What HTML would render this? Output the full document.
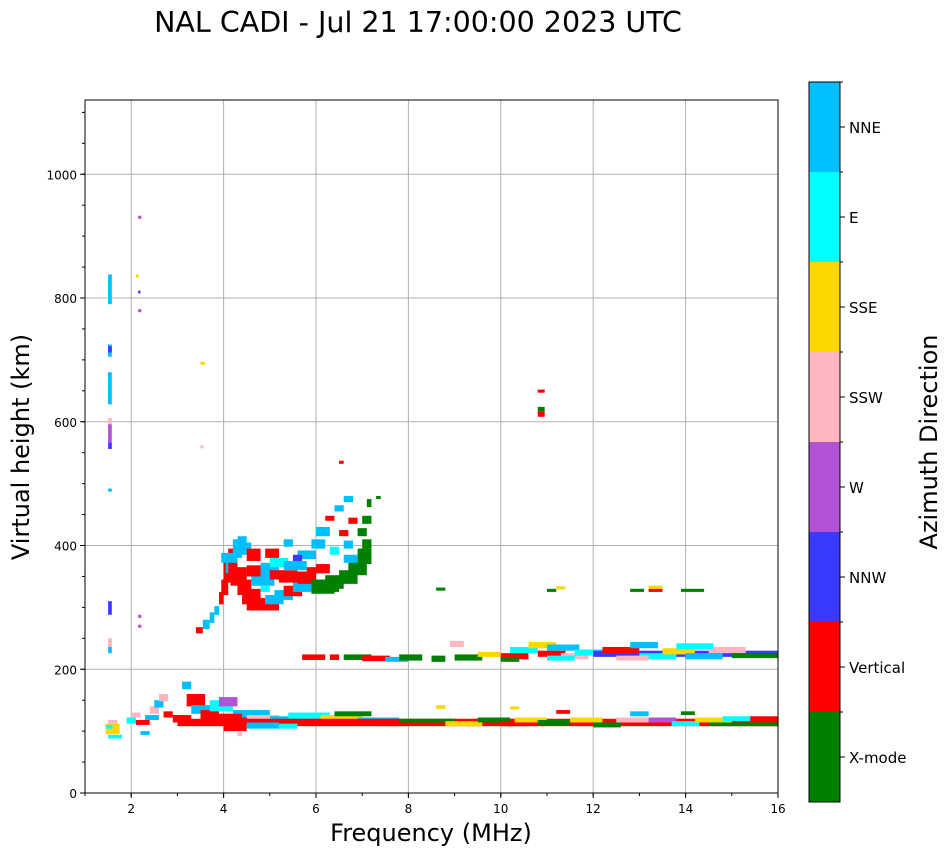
<!DOCTYPE html>
<html><head><meta charset="utf-8"><style>
body{margin:0;background:#fff;font-family:"DejaVu Sans","Liberation Sans",sans-serif}
svg text{font-family:"DejaVu Sans","Liberation Sans",sans-serif}
</style></head><body>
<svg id="chart" width="951" height="856" xmlns="http://www.w3.org/2000/svg">
<text x="418" y="32" font-size="28.5" text-anchor="middle">NAL CADI - Jul 21 17:00:00 2023 UTC</text>
<g id="grid"></g>
<g id="marks"></g>
<rect x="85" y="100" width="693" height="693" fill="none" stroke="#000" stroke-width="1"/>
<g id="axes"></g>
<text x="431" y="841" font-size="24" text-anchor="middle">Frequency (MHz)</text>
<text transform="translate(29,447) rotate(-90)" font-size="24" text-anchor="middle">Virtual height (km)</text>
<g id="colorbar"></g>
<text transform="translate(937,442) rotate(-90)" font-size="24" text-anchor="middle">Azimuth Direction</text>
</svg>
<script>
const categories=["X-mode","Vertical","NNW","W","SSW","SSE","E","NNE"];
const catColors=["#008000","#ff0000","#3a3aff","#b452d6","#ffb6c1","#ffd700","#00ffff","#00bfff"];
const xTicks=[2,4,6,8,10,12,14,16];
const yTicks=[0,200,400,600,800,1000];
// echoes: [freqStart MHz, freqEnd MHz, heightLow km, heightHigh km, category index]
const echoes=[
[1.5,1.58,790,838,7],[1.5,1.58,705,725,7],[1.5,1.58,712,722,2],[1.5,1.58,628,680,7],[1.5,1.58,596,606,4],
[1.5,1.58,565,596,3],[1.5,1.58,556,566,2],[1.5,1.58,487,492,7],[1.5,1.58,288,310,2],[1.5,1.58,236,250,4],[1.5,1.58,226,236,7],
[2.15,2.22,928,933,3],[2.1,2.16,833,838,5],[2.15,2.2,808,812,2],[2.15,2.22,777,782,3],[3.5,3.6,692,697,5],[3.5,3.56,557,562,4],
[2.15,2.22,283,288,3],[2.15,2.22,267,272,3],
[1.45,1.75,95,112,5],[1.45,1.6,104,110,6],[1.5,1.8,88,94,6],[1.5,1.7,112,118,4],[1.9,2.1,112,122,6],[2.0,2.2,122,130,4],
[2.1,2.4,110,118,1],[2.2,2.4,94,100,7],[2.3,2.6,118,126,7],[2.4,2.6,128,140,4],[2.5,2.7,138,150,7],[2.6,2.8,148,160,4],[2.7,2.9,122,132,1],
[2.9,3.3,114,126,1],[3.1,3.3,168,180,7],[3.2,3.6,140,160,1],[3.3,3.8,128,142,7],[3.5,3.9,118,134,1],[3.7,4.2,132,150,6],
[3.9,4.3,140,155,3],[3.8,4.6,110,128,1],[4.0,4.8,112,122,1],[4.2,5.0,122,134,7],[4.5,5.2,116,126,4],[5.0,5.8,112,124,7],
[5.4,6.3,120,130,6],[5.8,6.6,110,120,1],[6.1,7.0,116,126,5],[6.4,7.2,124,132,0],[6.9,7.8,112,122,7],[7.3,8.0,108,116,3],
[3.0,16,108,120,1],[7.8,9.0,114,120,0],[8.8,9.6,108,116,5],[8.6,8.8,136,142,5],[9.5,10.2,114,122,0],[10.0,10.6,108,116,1],
[10.3,11.0,114,122,5],[10.2,10.4,135,140,5],[10.8,11.5,110,118,0],[11.2,11.5,128,134,1],[11.5,12.2,114,122,5],
[12.0,12.6,106,114,0],[12.5,13.2,114,122,4],[12.8,13.2,124,132,7],[13.2,13.8,114,122,3],[13.7,14.3,108,116,6],
[13.9,14.2,126,132,0],[14.2,15.0,114,122,5],[14.8,15.5,116,124,6],[15.4,16.0,114,124,1],[14.5,16,108,114,0],
[4.0,4.5,100,112,1],[4.5,5.2,104,114,7],[5.2,5.6,104,112,6],[4.3,4.4,92,98,4],[3.9,4.4,118,128,1],
[3.4,3.55,258,268,1],[3.55,3.7,265,280,7],[3.7,3.8,275,292,7],[3.8,3.9,288,302,7],[3.9,4.0,305,325,1],[3.95,4.1,320,345,1],
[4.0,4.15,340,375,1],[4.05,4.25,355,380,7],[4.1,4.3,345,395,1],[4.2,4.4,380,410,7],[4.3,4.6,385,405,7],[4.5,4.8,375,395,1],
[4.15,4.5,335,365,1],[4.3,4.6,320,345,1],[4.4,4.8,305,330,1],[4.5,4.9,295,315,1],[4.7,5.2,295,310,1],[4.9,5.3,305,320,7],
[5.1,5.5,312,328,7],[5.3,5.7,318,335,1],[5.5,5.9,325,345,7],[4.6,5.1,335,360,7],[4.8,5.2,355,372,7],[5.0,5.4,365,380,6],
[5.2,5.6,340,360,1],[5.3,5.8,360,375,7],[5.6,6.0,338,358,1],[5.6,6.0,378,392,7],[5.9,6.2,395,410,7],[6.0,6.3,415,430,7],
[6.0,6.3,355,370,1],[5.9,6.4,322,345,0],[6.2,6.6,330,352,0],[6.5,6.9,338,360,0],[6.7,7.1,352,375,0],[6.9,7.2,370,395,0],
[7.0,7.2,395,410,0],[6.9,7.1,415,428,0],[7.0,7.2,435,448,0],[7.1,7.2,462,475,0],[6.5,6.7,415,425,1],[6.4,6.6,455,465,7],
[6.6,6.8,395,408,7],[6.7,6.9,435,445,1],[6.2,6.4,440,448,1],[6.5,6.6,532,537,1],[6.3,6.5,385,398,6],[6.6,6.9,372,385,7],
[4.9,5.2,380,395,1],[5.3,5.5,398,410,7],[4.5,4.8,350,368,1],[5.8,6.0,350,365,1],[6.2,6.5,325,338,0],[3.95,4.3,372,388,7],
[5.5,5.7,375,385,2],[4.8,5.0,325,335,6],[6.6,6.8,470,480,7],[7.3,7.4,475,480,0],[4.3,4.5,395,415,7],[5.0,5.3,345,360,1],
[5.7,6.2,215,224,1],[6.3,6.5,215,224,1],[6.6,7.2,215,224,0],[7.0,7.6,213,222,1],[7.5,8.0,212,220,7],[7.8,8.3,214,224,0],
[8.5,8.8,212,222,0],[8.9,9.2,236,246,4],[9.0,9.6,214,224,0],[9.5,10.0,220,228,5],[10.0,10.6,216,226,1],[10.2,10.8,226,236,6],
[10.6,11.2,234,244,5],[10.8,11.4,220,230,1],[11.0,11.7,230,240,7],[11.3,11.9,216,226,4],[11.6,12.3,222,232,6],[12.0,16,220,230,2],
[12.2,13.0,226,236,1],[12.8,13.4,234,244,7],[13.0,13.8,216,226,6],[13.5,14.2,224,234,5],[14.0,14.8,216,226,7],[14.5,15.3,226,236,4],
[15.0,16.0,218,226,0],[10.0,10.4,212,220,0],[11.0,11.6,214,222,6],[12.5,13.2,214,222,4],[13.8,14.6,232,242,6],
[8.6,8.8,327,332,0],[11.0,11.2,325,330,0],[11.2,11.4,329,334,5],[12.8,13.1,325,330,0],[13.2,13.5,325,330,1],
[13.2,13.5,330,335,5],[13.9,14.4,325,330,0],[10.8,10.95,647,652,1],[10.8,10.95,616,624,0],[10.8,10.95,608,616,1]
];
const NS="http://www.w3.org/2000/svg";
const X0=85,X1=778,Y0=793,Y1=100,FMIN=1,FMAX=16,HMIN=0,HMAX=1120;
function xS(f){return X0+(f-FMIN)/(FMAX-FMIN)*(X1-X0);}
function yS(h){return Y0-(h-HMIN)/(HMAX-HMIN)*(Y0-Y1);}
function mk(tag,attrs,parent){const e=document.createElementNS(NS,tag);for(const k in attrs)e.setAttribute(k,attrs[k]);parent.appendChild(e);return e;}
const grid=document.getElementById('grid'),axes=document.getElementById('axes'),marks=document.getElementById('marks');
xTicks.forEach(t=>{const x=xS(t);
 const g=mk('line',{x1:x,x2:x,y1:Y1,y2:Y0,stroke:'#b0b0b0','stroke-width':1},grid);
 
 mk('line',{x1:x,x2:x,y1:Y0,y2:Y0+5,stroke:'#000'},axes);
 const tx=mk('text',{x:x,y:Y0+20,'font-size':12,'text-anchor':'middle'},axes);tx.textContent=t;
 });
for(let f=1;f<=16;f++){mk('line',{x1:xS(f),x2:xS(f),y1:Y0,y2:Y0+3,stroke:'#000'},axes);}
yTicks.forEach(t=>{const y=yS(t);
 const g=mk('line',{x1:X0,x2:X1,y1:y,y2:y,stroke:'#b0b0b0','stroke-width':1},grid);
 
 mk('line',{x1:X0-5,x2:X0,y1:y,y2:y,stroke:'#000'},axes);
 const tx=mk('text',{x:X0-8,y:y+5,'font-size':12,'text-anchor':'end'},axes);tx.textContent=t;
 });
for(let h=0;h<=1100;h+=50){mk('line',{x1:X0-3,x2:X0,y1:yS(h),y2:yS(h),stroke:'#000'},axes);}
echoes.forEach(d=>{const x=xS(d[0]),w=Math.max(2,xS(d[1])-x),y=yS(d[3]),hh=Math.max(3,yS(d[2])-y);
 const r=mk('rect',{x:x,y:y,width:w,height:hh,fill:catColors[d[4]]},marks);
 
 });
const cb=document.getElementById('colorbar');const CBX=809,CBW=31,CBT=82,CBH=720,seg=CBH/categories.length;
categories.forEach((c,i)=>{const y=CBT+CBH-(i+1)*seg;
 const r=mk('rect',{x:CBX,y:y,width:CBW,height:seg,fill:catColors[i]},cb);
 
 mk('line',{x1:CBX+CBW,x2:CBX+CBW+5,y1:y+seg/2,y2:y+seg/2,stroke:'#000'},cb);
 mk('line',{x1:CBX+CBW,x2:CBX+CBW+3,y1:y,y2:y,stroke:'#000'},cb);
 const t=mk('text',{x:CBX+CBW+9,y:y+seg/2+6,'font-size':15},cb);t.textContent=c;
 });
mk('rect',{x:CBX,y:CBT,width:CBW,height:CBH,fill:'none',stroke:'#000'},cb);
</script>
</body></html>
